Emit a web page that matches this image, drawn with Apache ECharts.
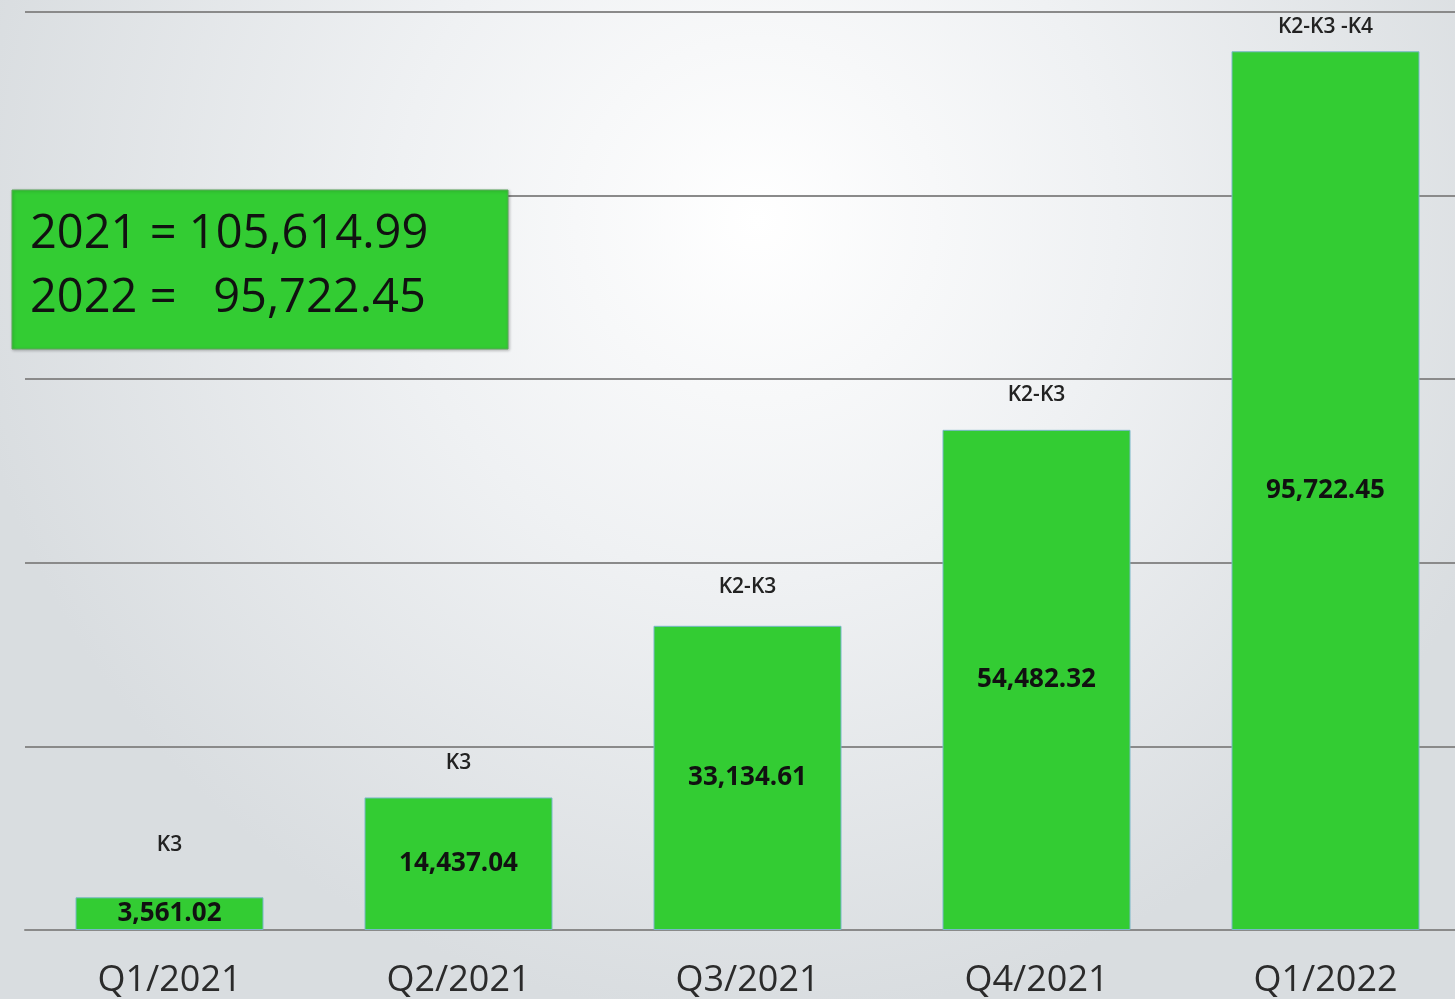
<!DOCTYPE html>
<html>
<head>
<meta charset="utf-8">
<script src="https://cdn.jsdelivr.net/npm/echarts@6/dist/echarts.min.js"></script>
<style>
  html, body { margin: 0; padding: 0; }
  #chart { width: 1455px; height: 999px; }
</style>
</head>
<body>
<div id="chart"></div>
<script>
// 数据
const quarters = ['Q1/2021', 'Q2/2021', 'Q3/2021', 'Q4/2021', 'Q1/2022']
const amounts = [3561.02, 14437.04, 33134.61, 54482.32, 95722.45]
const tiers = ['K3', 'K3', 'K2-K3', 'K2-K3', 'K2-K3 -K4']
const yearTotals = ['2021 = 105,614.99', '2022 =   95,722.45']

// 标签与柱顶的间距（样式）
const tierGaps = [42, 24, 28, 24, 14]

const fmt = (v) =>
  v.toLocaleString('en-US', { minimumFractionDigits: 2, maximumFractionDigits: 2 })

const chart = echarts.init(document.getElementById('chart'))

chart.setOption({
  animation: false,
  backgroundColor: {
    type: 'radial',
    x: 0.52,
    y: 0.22,
    r: 0.8,
    colorStops: [
      { offset: 0, color: '#ffffff' },
      { offset: 0.45, color: '#eff1f3' },
      { offset: 1, color: '#d9dde0' },
    ],
  },
  grid: { left: 25, right: -15, top: 12, bottom: 69, outerBoundsMode: 'none' },
  xAxis: {
    type: 'category',
    data: quarters,
    axisTick: { show: false },
    axisLine: { lineStyle: { color: '#8a8a8a', width: 2 } },
    axisLabel: {
      margin: 33,
      fontSize: 36,
      color: '#2b2b2b',
      fontFamily: 'Open Sans',
    },
  },
  yAxis: {
    type: 'value',
    min: 0,
    max: 100000,
    interval: 20000,
    axisLabel: { show: false },
    axisLine: { show: false },
    axisTick: { show: false },
    splitLine: { lineStyle: { color: '#8a8a8a', width: 2 } },
  },
  series: [
    {
      type: 'bar',
      barWidth: 188,
      data: amounts,
      itemStyle: { color: '#33cc33', borderColor: '#79b8c8', borderWidth: 1 },
      label: {
        show: true,
        position: 'inside',
        formatter: (p) => fmt(p.value),
        fontSize: 26,
        fontWeight: 'bold',
        color: '#111',
        fontFamily: 'Open Sans',
      },
      z: 3,
    },
    {
      type: 'bar',
      barWidth: 188,
      barGap: '-100%',
      data: amounts.map((v, i) => ({
        value: v,
        label: { distance: tierGaps[i] },
      })),
      itemStyle: { color: 'transparent' },
      label: {
        show: true,
        position: 'top',
        formatter: (p) => tiers[p.dataIndex],
        fontSize: 21,
        fontWeight: 600,
        color: '#222',
        fontFamily: 'Open Sans',
      },
      silent: true,
      z: 2,
    },
  ],
  graphic: [
    {
      type: 'rect',
      shape: { x: 12, y: 190, width: 496, height: 159 },
      style: {
        fill: '#33cc33',
        stroke: '#5aa85a',
        lineWidth: 1,
        shadowBlur: 3,
        shadowColor: 'rgba(0,0,0,0.25)',
        shadowOffsetX: 1,
        shadowOffsetY: 1,
      },
      z: 10,
    },
    ...yearTotals.map((t, i) => ({
      type: 'text',
      left: 30,
      top: 211 + i * 64,
      style: {
        text: t,
        fontSize: 47,
        fill: '#111',
        fontFamily: 'Open Sans',
      },
      z: 11,
    })),
  ],
})
</script>
</body>
</html>
